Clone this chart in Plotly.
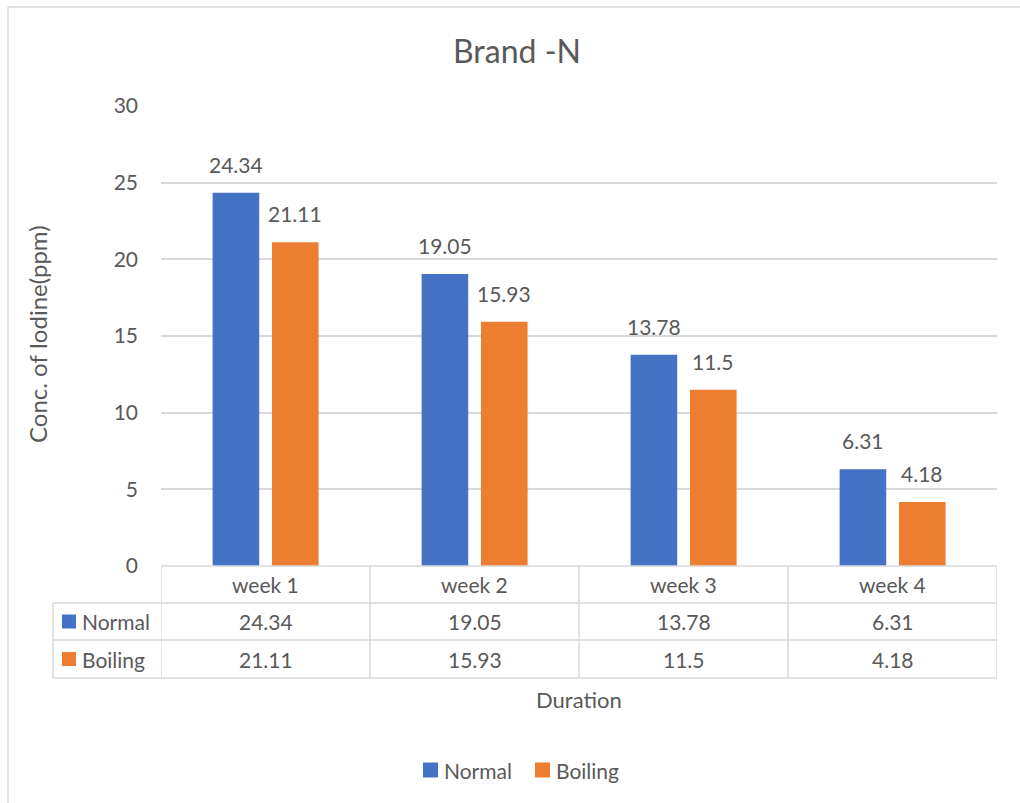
import plotly.graph_objects as go

# Data
categories = ["week 1", "week 2", "week 3", "week 4"]
normal = [24.34, 19.05, 13.78, 6.31]
boiling = [21.11, 15.93, 11.5, 4.18]
series_names = ["Normal", "Boiling"]
y_ticks = [0, 5, 10, 15, 20, 25, 30]

BLUE = "#4472C4"
ORANGE = "#ED7D31"
TEXT = "#595959"
GRID = "#D9D9D9"
FONT = "Lato"
FS = 21

W, H = 1020, 803
L, R, T, B = 161, 23, 106, 237
PW, PH = W - L - R, H - T - B


def px_x(px):
    return (px - L) / PW


def px_y(py):
    return (H - B - py) / PH


series = [(series_names[0], normal, BLUE, -0.253), (series_names[1], boiling, ORANGE, 0.031)]
BAR_W = 0.223

fig = go.Figure()
annotations = []
for name, vals, color, off in series:
    fig.add_trace(go.Bar(
        name=name, x=list(range(len(categories))), y=vals,
        width=BAR_W, offset=off,
        marker=dict(color=color, line=dict(width=0)),
        showlegend=False,
    ))
    # value labels above the bars
    for i, v in enumerate(vals):
        annotations.append(dict(x=i + off + BAR_W / 2, y=v, xref="x", yref="y",
                                text=f"{v:g}", showarrow=False, yanchor="bottom", yshift=14,
                                font=dict(family=FONT, size=FS, color=TEXT)))

shapes = []
line_style = dict(color=GRID, width=1.5)

# Data table under the plot area
row_edges = [566, 603, 640, 678]
y_edges = [px_y(p) for p in row_edges]
table_left = px_x(53)

shapes.append(dict(type="line", xref="paper", yref="paper", x0=0, x1=1,
                   y0=y_edges[0], y1=y_edges[0], line=line_style))
for ye in y_edges[1:]:
    shapes.append(dict(type="line", xref="paper", yref="paper", x0=table_left, x1=1,
                       y0=ye, y1=ye, line=line_style))
for i in range(len(categories) + 1):
    shapes.append(dict(type="line", xref="x", yref="paper", x0=i - 0.5, x1=i - 0.5,
                       y0=y_edges[0], y1=y_edges[-1], line=line_style))
shapes.append(dict(type="line", xref="paper", yref="paper", x0=table_left, x1=table_left,
                   y0=y_edges[1], y1=y_edges[-1], line=line_style))

for i, c in enumerate(categories):
    annotations.append(dict(x=i, y=(y_edges[0] + y_edges[1]) / 2, xref="x", yref="paper",
                            text=c, showarrow=False, yanchor="middle", xanchor="center",
                            font=dict(family=FONT, size=FS, color=TEXT)))
for r, (name, vals, color, _) in enumerate(series):
    yc = (y_edges[r + 1] + y_edges[r + 2]) / 2
    for i, v in enumerate(vals):
        annotations.append(dict(x=i, y=yc, xref="x", yref="paper", text=f"{v:g}",
                                showarrow=False, yanchor="middle", xanchor="center",
                                font=dict(family=FONT, size=FS, color=TEXT)))
    half = 7 / PH
    shapes.append(dict(type="rect", xref="paper", yref="paper",
                       x0=px_x(62), x1=px_x(76), y0=yc - half, y1=yc + half,
                       fillcolor=color, line=dict(width=0)))
    annotations.append(dict(x=px_x(80), y=yc, xref="paper", yref="paper", text=name,
                            xanchor="left", yanchor="middle", showarrow=False,
                            font=dict(family=FONT, size=FS, color=TEXT)))

# Legend below the table
legend_items = [(series_names[0], BLUE, 423), (series_names[1], ORANGE, 535)]
for name, color, lx in legend_items:
    yc = px_y(770)
    half = 7.5 / PH
    shapes.append(dict(type="rect", xref="paper", yref="paper",
                       x0=px_x(lx), x1=px_x(lx + 15), y0=yc - half, y1=yc + half,
                       fillcolor=color, line=dict(width=0)))
    annotations.append(dict(x=px_x(lx + 19), y=yc, xref="paper", yref="paper", text=name,
                            xanchor="left", yanchor="middle", showarrow=False,
                            font=dict(family=FONT, size=FS, color=TEXT)))

# chart frame (top and left edges)
shapes.append(dict(type="line", xref="paper", yref="paper", x0=px_x(8), x1=px_x(1020),
                   y0=px_y(7), y1=px_y(7), line=dict(color=GRID, width=1.5)))
shapes.append(dict(type="line", xref="paper", yref="paper", x0=px_x(8), x1=px_x(8),
                   y0=px_y(7), y1=px_y(803), line=dict(color=GRID, width=1.5)))

# axis titles
annotations.append(dict(x=px_x(579), y=px_y(700), xref="paper", yref="paper", text="Duration",
                        showarrow=False, xanchor="center", yanchor="middle",
                        font=dict(family=FONT, size=22, color=TEXT)))
annotations.append(dict(x=px_x(37), y=px_y(334), xref="paper", yref="paper",
                        text="Conc. of Iodine(ppm)", textangle=-90, showarrow=False,
                        xanchor="center", yanchor="middle",
                        font=dict(family=FONT, size=24, color=TEXT)))

fig.update_layout(
    width=W, height=H,
    margin=dict(l=L, r=R, t=T, b=B),
    paper_bgcolor="white", plot_bgcolor="white",
    title=dict(text="Brand -N", x=517 / W, xanchor="center",
               y=1 - 52 / H, yanchor="middle",
               font=dict(family=FONT, size=32, color=TEXT)),
    xaxis=dict(showticklabels=False, showline=False, showgrid=False, ticks="",
               zeroline=False, range=[-0.5, len(categories) - 0.5]),
    yaxis=dict(range=[0, 30], tickvals=y_ticks, showgrid=True, gridcolor=GRID, gridwidth=1.5,
               zeroline=False, showline=False, ticks="", ticklabelstandoff=22,
               tickfont=dict(family=FONT, size=FS, color=TEXT)),
    shapes=shapes, annotations=annotations,
    showlegend=False,
)

fig.write_html("out.html")
